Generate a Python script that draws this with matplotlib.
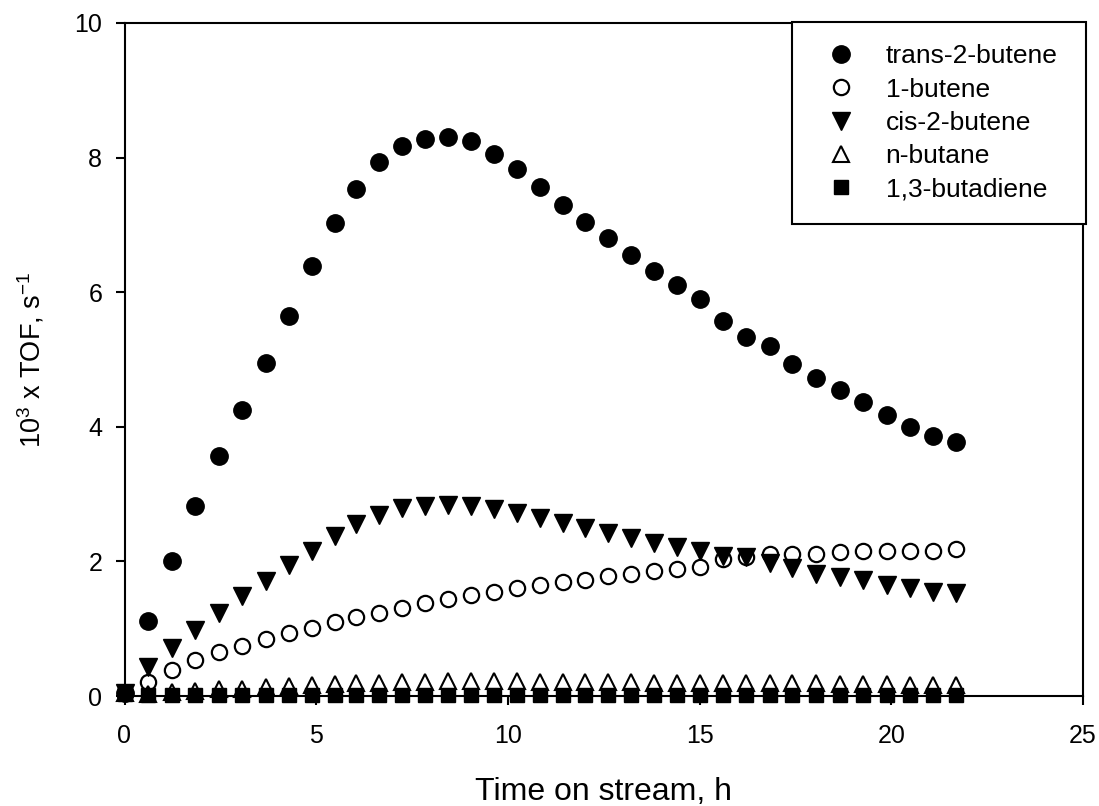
import matplotlib
matplotlib.use("Agg")
import matplotlib.pyplot as plt

plt.rcParams["font.family"] = ["Liberation Sans", "DejaVu Sans"]
plt.rcParams["mathtext.default"] = "regular"

# time on stream, h
time_h = [0.0, 0.62, 1.23, 1.85, 2.47, 3.07, 3.68, 4.28, 4.88, 5.49, 6.05, 6.64,
          7.24, 7.83, 8.45, 9.03, 9.64, 10.24, 10.83, 11.43, 12.02, 12.62, 13.20,
          13.81, 14.41, 15.00, 15.60, 16.20, 16.83, 17.41, 18.03, 18.65, 19.26,
          19.88, 20.48, 21.09, 21.69]

trans_2_butene = [0.04, 1.12, 2.00, 2.83, 3.56, 4.25, 4.95, 5.64, 6.39, 7.03, 7.54,
                  7.93, 8.17, 8.28, 8.31, 8.25, 8.06, 7.83, 7.56, 7.29, 7.04, 6.80,
                  6.56, 6.32, 6.10, 5.90, 5.57, 5.34, 5.20, 4.93, 4.72, 4.54, 4.37,
                  4.18, 4.00, 3.87, 3.78]
butene_1 = [0.04, 0.21, 0.39, 0.54, 0.65, 0.74, 0.85, 0.94, 1.01, 1.10, 1.17, 1.24,
            1.31, 1.38, 1.44, 1.50, 1.55, 1.60, 1.65, 1.69, 1.73, 1.78, 1.82, 1.86,
            1.89, 1.92, 2.04, 2.06, 2.11, 2.11, 2.11, 2.14, 2.15, 2.15, 2.15, 2.16,
            2.18]
cis_2_butene = [0.04, 0.43, 0.71, 0.98, 1.24, 1.49, 1.71, 1.95, 2.16, 2.38, 2.56,
                2.69, 2.79, 2.82, 2.84, 2.83, 2.78, 2.72, 2.64, 2.57, 2.49, 2.42,
                2.35, 2.28, 2.21, 2.15, 2.08, 2.06, 1.98, 1.90, 1.82, 1.77, 1.72,
                1.65, 1.60, 1.55, 1.53]
n_butane = [0.04, 0.03, 0.06, 0.08, 0.10, 0.11, 0.13, 0.15, 0.16, 0.18, 0.19, 0.20,
            0.21, 0.21, 0.22, 0.22, 0.22, 0.22, 0.21, 0.21, 0.21, 0.21, 0.21, 0.20,
            0.20, 0.20, 0.20, 0.20, 0.19, 0.19, 0.19, 0.18, 0.18, 0.18, 0.17, 0.17,
            0.17]
butadiene_13 = [0.03, 0.02, 0.02, 0.02, 0.02, 0.02, 0.02, 0.02, 0.02, 0.02, 0.02,
                0.02, 0.02, 0.02, 0.02, 0.02, 0.02, 0.02, 0.02, 0.02, 0.02, 0.02,
                0.02, 0.02, 0.02, 0.02, 0.02, 0.02, 0.02, 0.02, 0.02, 0.02, 0.02,
                0.02, 0.02, 0.02, 0.02]

fig = plt.figure(figsize=(10.99, 8.06), dpi=100)
ax = fig.add_axes([124.5 / 1099, 110 / 806, 958.5 / 1099, 673 / 806])

common = dict(linestyle="none", clip_on=False, markeredgecolor="black")
ax.plot(time_h, trans_2_butene, marker="o", ms=12.5, mfc="black",
        label="trans-2-butene", **common)
ax.plot(time_h, butene_1, marker="o", ms=11, mfc="white", mew=1.6,
        label="1-butene", **common)
ax.plot(time_h, cis_2_butene, marker="v", ms=12.5, mfc="black",
        label="cis-2-butene", **common)
ax.plot(time_h, n_butane, marker="^", ms=11, mfc="white", mew=1.5,
        label="n-butane", **common)
ax.plot(time_h, butadiene_13, marker="s", ms=10.5, mfc="black",
        label="1,3-butadiene", **common)

ax.set_xlim(0, 25)
ax.set_ylim(0, 10)
ax.set_xticks([0, 5, 10, 15, 20, 25])
ax.set_yticks([0, 2, 4, 6, 8, 10])
ax.tick_params(direction="out", length=6.5, width=1.5, labelsize=18, pad=9.5,
               top=False, right=False)
ax.tick_params(axis="x", pad=13.5)
for s in ax.spines.values():
    s.set_linewidth(1.5)

ax.set_xlabel("Time on stream, h", fontsize=23, labelpad=21)
ax.set_ylabel(r"10$^3$ x TOF, s$^{-1}$", fontsize=19.5, labelpad=20)

leg = ax.legend(loc="upper left",
                bbox_to_anchor=(792 / 1099, 584 / 806, 294 / 1099, 200 / 806),
                bbox_transform=fig.transFigure, mode="expand", borderaxespad=0,
                fontsize=19, fancybox=False, framealpha=1, edgecolor="black",
                borderpad=0.85, labelspacing=0.35, handlelength=2.0,
                handletextpad=0.7, numpoints=1)
leg.get_frame().set_linewidth(1.5)

fig.savefig("out.png", dpi=100)
